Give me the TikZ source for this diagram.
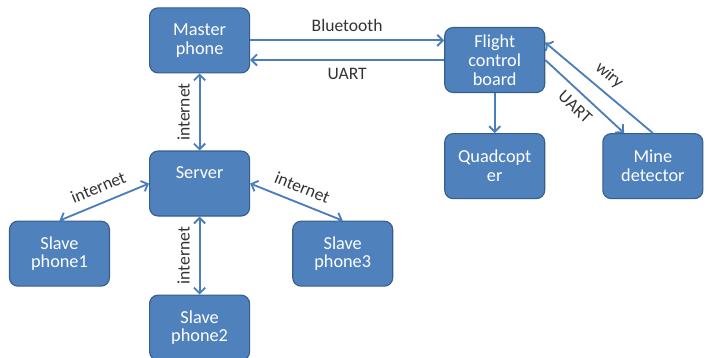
\documentclass[tikz,border=0pt]{standalone}
\usepackage{fontspec}
\setmainfont{Carlito}
\usetikzlibrary{arrows.meta, positioning}
\definecolor{cbox}{RGB}{79,129,189}
\definecolor{cedge}{RGB}{56,93,138}
\definecolor{carrow}{RGB}{74,126,187}

\begin{document}
\begin{tikzpicture}[
  node distance = 1.9cm and 1cm,
  box/.style  = {rectangle, rounded corners=6pt, draw=cedge, line width=0.8pt,
                 fill=cbox, text=white, minimum width=2.5cm,
                 minimum height=1.625cm, align=center,
                 font=\fontsize{13}{13.4}\selectfont},
  arr/.style  = {-{Straight Barb[length=4pt,width=8pt]}, line width=1.3pt, carrow},
  darr/.style = {{Straight Barb[length=4pt,width=8pt]}-{Straight Barb[length=4pt,width=8pt]},
                 line width=1.3pt, carrow},
  lbl/.style  = {font=\fontsize{12.5}{13}\selectfont, text=black!80},
]
\useasboundingbox (0,0) rectangle (17.75,-8.95);
% Phones and server
\node[box] (master) at (4.99,-1.01) {Master\\phone};
\node[box, below=1.925cm of master]                  (server) {Server\\\phantom{p}};
\node[box, below=1.95cm of server]                   (slave2) {Slave\\phone2};
\node[box, below left=0.1cm and 0.975cm of server]   (slave1) {Slave\\phone1};
\node[box, below right=0.1cm and 1.05cm of server]   (slave3) {Slave\\phone3};
% Drone side
\node[box, right=4.85cm of master, yshift=-0.49cm] (flight) {Flight\\control\\board};
\node[box, below=1cm of flight]                    (quad)   {Quadcopt\\er};
\node[box, right=1.425cm of quad]                  (mine)   {Mine\\detector};
% Arrows
\draw[arr] (master.east) -- node[lbl, above=2pt]{Bluetooth} (master.east -| flight.west);
\draw[arr] (flight.west) -- node[lbl, below=2pt]{UART} (flight.west -| master.east);
\draw[darr] (server) -- node[lbl, above=3pt, sloped]{internet} (master);
\draw[darr] (slave2) -- node[lbl, above=3pt, sloped]{internet} (server);
\draw[darr] (slave1.north) -- node[lbl, above=3pt, sloped]{internet} (server.west);
\draw[darr] (server.east) -- node[lbl, above=3pt, sloped]{internet} (slave3.north);
\draw[arr] (flight) -- (quad);
\draw[arr] (flight.east) -- node[lbl, below=2pt, sloped]{UART} (mine.131);
\draw[arr, <-] (flight.19) -- node[lbl, above=2pt, sloped]{wiry} (mine.north);
\end{tikzpicture}
\end{document}
